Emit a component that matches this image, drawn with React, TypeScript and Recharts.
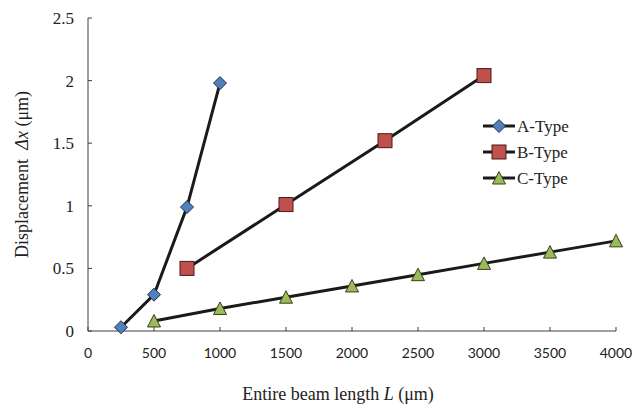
import React from 'react';
import { LineChart, Line, XAxis, YAxis } from 'recharts';

// Beam length (µm) and displacement (µm)
const lengthA = [250, 500, 750, 1000];
const dispA = [0.03, 0.29, 0.99, 1.98];

const lengthB = [750, 1500, 2250, 3000];
const dispB = [0.5, 1.01, 1.52, 2.04];

const lengthC = [500, 1000, 1500, 2000, 2500, 3000, 3500, 4000];
const dispC = [0.08, 0.18, 0.27, 0.36, 0.45, 0.54, 0.63, 0.72];

const xTicks = [0, 500, 1000, 1500, 2000, 2500, 3000, 3500, 4000];
const yTicks = [0, 0.5, 1, 1.5, 2, 2.5];

const seriesNames = ['A-Type', 'B-Type', 'C-Type'];

const toRows = (xs: number[], ys: number[]) => xs.map((x, i) => ({ x, y: ys[i] }));

const dataA = toRows(lengthA, dispA);
const dataB = toRows(lengthB, dispB);
const dataC = toRows(lengthC, dispC);

const LINE = '#1a1a1a';
const AXIS = '#404040';
const SERIF = '"Liberation Serif", "DejaVu Serif", serif';

const Diamond = ({ cx, cy }: any) => (
  <polygon
    points={`${cx},${cy - 6.5} ${cx + 6.5},${cy} ${cx},${cy + 6.5} ${cx - 6.5},${cy}`}
    fill="#4F81BD"
    stroke="#1f2f45"
    strokeWidth={1}
  />
);

const Square = ({ cx, cy }: any) => (
  <rect x={cx - 7} y={cy - 7} width={14} height={14} fill="#C0504D" stroke="#4a1a19" strokeWidth={1} />
);

const Triangle = ({ cx, cy }: any) => (
  <polygon
    points={`${cx},${cy - 6.5} ${cx + 6.5},${cy + 6} ${cx - 6.5},${cy + 6}`}
    fill="#9BBB59"
    stroke="#34421c"
    strokeWidth={1}
  />
);

const XTick = ({ x, y, payload }: any) => (
  <g>
    <line x1={x} y1={y} x2={x} y2={y - 4} stroke={AXIS} />
    <text x={x} y={y + 27} textAnchor="middle" fontFamily="Lato, sans-serif" fontSize={14} fill="#222">
      {payload.value}
    </text>
  </g>
);

const YTick = ({ x, y, payload }: any) => (
  <g>
    <line x1={x} y1={y} x2={x + 4} y2={y} stroke={AXIS} />
    <text x={x - 14} y={y + 6} textAnchor="end" fontFamily={SERIF} fontSize={17} fill="#222">
      {payload.value}
    </text>
  </g>
);

const XLabel = ({ viewBox }: any) => (
  <text
    x={viewBox.x + viewBox.width / 2 - 14}
    y={viewBox.y + 69}
    textAnchor="middle"
    fontFamily={SERIF}
    fontSize={18}
    fill="#222"
  >
    Entire beam length <tspan fontStyle="italic">L</tspan> (μm)
  </text>
);

const YLabel = ({ viewBox }: any) => {
  const cx = viewBox.x + 28;
  const cy = viewBox.y + viewBox.height / 2;
  return (
    <text
      x={cx}
      y={cy}
      transform={`rotate(-90 ${cx} ${cy})`}
      textAnchor="middle"
      fontFamily={SERIF}
      fontSize={18}
      fill="#222"
    >
      Displacement <tspan dx={5} fontStyle="italic">Δx</tspan> (μm)
    </text>
  );
};

const markers = [Diamond, Square, Triangle];

const LegendBox = () => (
  <svg width={140} height={80} style={{ position: 'absolute', left: 478, top: 111 }}>
    {seriesNames.map((name, i) => {
      const y = 15 + i * 26;
      const Marker = markers[i];
      return (
        <g key={name}>
          <line x1={5} y1={y} x2={37} y2={y} stroke={LINE} strokeWidth={3} />
          <Marker cx={21} cy={y} />
          <text x={39} y={y + 6} fontFamily={SERIF} fontSize={17} fill="#222">
            {name}
          </text>
        </g>
      );
    })}
  </svg>
);

export default function App() {
  return (
    <div style={{ position: 'absolute', left: 0, top: 0, width: 635, height: 406, background: '#fff' }}>
      <LineChart width={635} height={406} margin={{ top: 18, right: 19, bottom: 0, left: 0 }}>
        <XAxis
          type="number"
          dataKey="x"
          domain={[0, 4000]}
          ticks={xTicks}
          tick={<XTick />}
          tickLine={false}
          tickSize={0}
          tickMargin={0}
          height={75}
          axisLine={{ stroke: AXIS }}
          allowDuplicatedCategory={false}
          label={<XLabel />}
        />
        <YAxis
          type="number"
          dataKey="y"
          domain={[0, 2.5]}
          ticks={yTicks}
          tick={<YTick />}
          tickLine={false}
          tickSize={0}
          tickMargin={0}
          width={88}
          axisLine={{ stroke: AXIS }}
          label={<YLabel />}
        />
        <Line data={dataA} dataKey="y" name={seriesNames[0]} stroke={LINE} strokeWidth={3} dot={<Diamond />} activeDot={false} isAnimationActive={false} />
        <Line data={dataB} dataKey="y" name={seriesNames[1]} stroke={LINE} strokeWidth={3} dot={<Square />} activeDot={false} isAnimationActive={false} />
        <Line data={dataC} dataKey="y" name={seriesNames[2]} stroke={LINE} strokeWidth={3} dot={<Triangle />} activeDot={false} isAnimationActive={false} />
      </LineChart>
      <LegendBox />
    </div>
  );
}
